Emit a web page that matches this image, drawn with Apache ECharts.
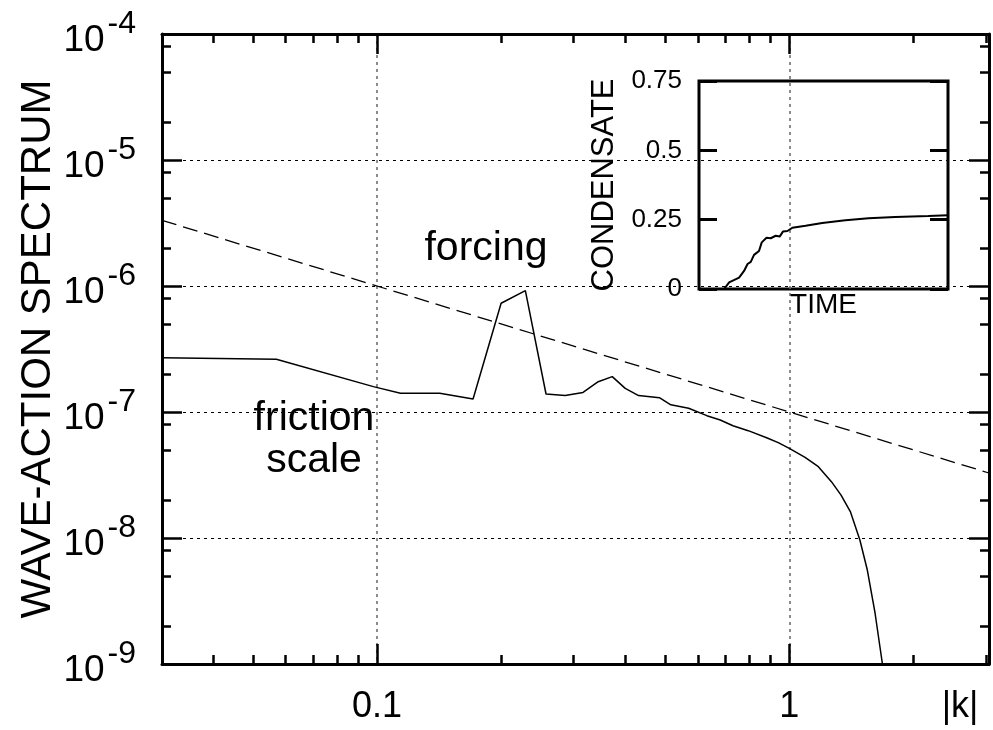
<!DOCTYPE html>
<html>
<head>
<meta charset="utf-8">
<script src="https://cdn.jsdelivr.net/npm/echarts@6/dist/echarts.min.js"></script>
<style>
html, body { margin: 0; padding: 0; background: #fff; }
#eChart { width: 993px; height: 730px; }
</style>
</head>
<body>
<div id="eChart"></div>
<script>
// axis ranges and ticks
var kRange = [0.0301, 3.05];
var nRange = [1e-9, 1e-4];
var kMajorTicks = [0.1, 1];
var kMinorTicks = [0.04, 0.05, 0.06, 0.07, 0.08, 0.09, 0.2, 0.3, 0.4, 0.5, 0.6, 0.7, 0.8, 0.9, 2, 3];
var nMajorTicks = [1e-9, 1e-8, 1e-7, 1e-6, 1e-5, 1e-4];
var nMinorTicks = [2e-9, 5e-9, 8e-9, 2e-8, 5e-8, 8e-8, 2e-7, 5e-7, 8e-7,
                   2e-6, 5e-6, 8e-6, 2e-5, 5e-5, 8e-5];
var condensateTicks = [0, 0.25, 0.5, 0.75];

// wave-action spectrum
var spectrumK = [0.0301, 0.057, 0.098, 0.114, 0.142, 0.171, 0.200, 0.229, 0.257, 0.286,
                 0.316, 0.344, 0.372, 0.400, 0.431, 0.484, 0.516, 0.570, 0.631, 0.680,
                 0.730, 0.795, 0.884, 0.940, 1.00, 1.092, 1.176, 1.265, 1.335, 1.406,
                 1.483, 1.546, 1.614, 1.682, 1.75];
var spectrumN = [2.70e-7, 2.62e-7, 1.59e-7, 1.41e-7, 1.41e-7, 1.27e-7, 7.3e-7, 9.2e-7, 1.39e-7, 1.35e-7,
                 1.43e-7, 1.74e-7, 1.91e-7, 1.54e-7, 1.35e-7, 1.30e-7, 1.14e-7, 1.07e-7, 9.35e-8, 8.64e-8,
                 7.78e-8, 7.11e-8, 6.22e-8, 5.71e-8, 5.15e-8, 4.37e-8, 3.68e-8, 2.80e-8, 2.19e-8, 1.62e-8,
                 9.64e-9, 5.57e-9, 2.54e-9, 1.0e-9, 4e-10];

// dashed reference slope
var slopeK = [0.0301, 3.05];
var slopeN = [3.32e-6, 3.28e-8];

// inset: condensate vs time
var timeT = [0, 10.1, 12.1, 16.1, 18.1, 19.5, 20.8, 22.1, 24.1, 25.2, 27.1, 28.8,
             30.8, 32.4, 33.7, 35.5, 37.5, 42.8, 49.5, 58.8, 68.1, 78.8, 92.1, 100];
var condensate = [0, 0, 0.024, 0.041, 0.065, 0.090, 0.098, 0.123, 0.137, 0.168, 0.185, 0.183,
                  0.192, 0.189, 0.207, 0.209, 0.221, 0.228, 0.238, 0.248, 0.255, 0.260, 0.263, 0.266];

var FONT = "'Liberation Sans', Arial, Helvetica, sans-serif";

function zip(a, b) {
    var d = [];
    for (var i = 0; i < a.length; i++) d.push([a[i], b[i]]);
    return d;
}

// one log axis of the main frame; major ones carry the frame line
function mainAxis(pos, range, ticks, len, major) {
    return {
        type: 'log',
        logBase: 10,
        gridIndex: 0,
        position: pos,
        min: range[0],
        max: range[1],
        axisLine: { show: major, onZero: false, lineStyle: { color: '#000', width: 3 } },
        axisTick: { show: true, inside: true, length: len, customValues: ticks,
                    lineStyle: { color: '#000', width: 2.5 } },
        axisLabel: { show: false },
        splitLine: { show: false }
    };
}

var xBottom = mainAxis('bottom', kRange, kMajorTicks, 20, true);
xBottom.axisLabel = { show: true, customValues: kMajorTicks, fontSize: 36, margin: 25,
                      color: '#000', fontFamily: FONT };
xBottom.splitLine = { show: true, lineStyle: { color: '#666', width: 1.5, type: [3, 4] } };

var yLeft = mainAxis('left', nRange, nMajorTicks, 20, true);
yLeft.axisLabel = {
    show: true, customValues: nMajorTicks, margin: 26,
    formatter: function (v) {
        return '{b|10}{s|' + Math.round(Math.log(v) / Math.LN10) + '}';
    },
    rich: {
        b: { fontSize: 37, lineHeight: 37, padding: [14, 0, 0, 0], color: '#000', fontFamily: FONT },
        s: { fontSize: 32, lineHeight: 32, padding: [0, 0, 19, 3], color: '#000', fontFamily: FONT }
    }
};
yLeft.splitLine = { show: true, lineStyle: { color: '#000', width: 1, type: [3, 4] } };
yLeft.name = 'WAVE-ACTION SPECTRUM';
yLeft.nameLocation = 'middle';
yLeft.nameGap = 103;
yLeft.nameMoveOverlap = false;
yLeft.nameTextStyle = { fontSize: 42, color: '#000', fontFamily: FONT };

var option = {
    animation: false,
    backgroundColor: '#fff',
    grid: [
        { left: 162, right: 4, top: 34, bottom: 66, containLabel: false, outerBoundsMode: 'none' },
        { left: 699, top: 81, width: 249, height: 208, containLabel: false, outerBoundsMode: 'none',
          show: true, borderColor: '#000', borderWidth: 3, backgroundColor: 'rgba(0,0,0,0)' }
    ],
    xAxis: [
        xBottom,
        mainAxis('bottom', kRange, kMinorTicks, 9, false),
        mainAxis('top', kRange, kMajorTicks, 20, true),
        mainAxis('top', kRange, kMinorTicks, 9, false),
        {
            type: 'value', gridIndex: 1, min: 0, max: 100,
            axisLine: { show: false }, axisTick: { show: false },
            axisLabel: { show: false }, splitLine: { show: false },
            name: 'TIME', nameLocation: 'middle', nameGap: 2,
            nameTextStyle: { fontSize: 28, color: '#000', fontFamily: FONT }
        }
    ],
    yAxis: [
        yLeft,
        mainAxis('left', nRange, nMinorTicks, 9, false),
        mainAxis('right', nRange, nMajorTicks, 20, true),
        mainAxis('right', nRange, nMinorTicks, 9, false),
        {
            type: 'value', gridIndex: 1, position: 'left', min: 0, max: 0.75, interval: 0.25,
            axisLine: { show: false },
            axisTick: { show: true, inside: true, length: 18, customValues: condensateTicks,
                        lineStyle: { color: '#000', width: 3 } },
            axisLabel: { show: true, customValues: condensateTicks, fontSize: 26, margin: 17,
                         color: '#000', fontFamily: FONT },
            splitLine: { show: false },
            name: 'CONDENSATE', nameLocation: 'middle', nameGap: 79,
            nameTextStyle: { fontSize: 31, color: '#000', fontFamily: FONT }
        },
        {
            type: 'value', gridIndex: 1, position: 'right', min: 0, max: 0.75, interval: 0.25,
            axisLine: { show: false },
            axisTick: { show: true, inside: true, length: 18, customValues: condensateTicks,
                        lineStyle: { color: '#000', width: 3 } },
            axisLabel: { show: false },
            splitLine: { show: false }
        }
    ],
    graphic: [
        { type: 'text', x: 486, y: 249, style: { text: 'forcing', font: '41px ' + FONT, fill: '#000',
          textAlign: 'center', textVerticalAlign: 'middle', align: 'center', verticalAlign: 'middle' } },
        { type: 'text', x: 314, y: 440, style: { text: 'friction\nscale', font: '41px ' + FONT, fill: '#000',
          lineHeight: 42, textAlign: 'center', textVerticalAlign: 'middle', align: 'center', verticalAlign: 'middle' } },
        { type: 'text', x: 960, y: 707, style: { text: '|k|', font: '36px ' + FONT, fill: '#000',
          textAlign: 'center', textVerticalAlign: 'middle', align: 'center', verticalAlign: 'middle' } }
    ],
    series: [
        {
            name: 'spectrum', type: 'line', xAxisIndex: 0, yAxisIndex: 0,
            data: zip(spectrumK, spectrumN), symbol: 'none', clip: true,
            lineStyle: { color: '#000', width: 1.5 }
        },
        {
            name: 'slope', type: 'line', xAxisIndex: 0, yAxisIndex: 0,
            data: zip(slopeK, slopeN), symbol: 'none', clip: true,
            lineStyle: { color: '#000', width: 1.3, type: [15, 7] }
        },
        {
            name: 'condensate', type: 'line', xAxisIndex: 4, yAxisIndex: 4,
            data: zip(timeT, condensate), symbol: 'none', clip: true,
            lineStyle: { color: '#000', width: 2 }
        }
    ]
};

var _eChart = echarts.init(document.getElementById('eChart'));
_eChart.setOption(option);
</script>
</body>
</html>
